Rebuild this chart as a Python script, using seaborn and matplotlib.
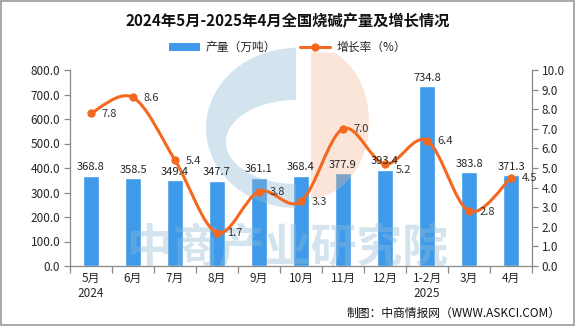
import numpy as np
import pandas as pd
import matplotlib
matplotlib.use("Agg")
import matplotlib.pyplot as plt
import seaborn as sns
from matplotlib.path import Path
from matplotlib.patches import PathPatch, Patch, Polygon
from matplotlib.lines import Line2D

categories = ["5月\n2024", "6月", "7月", "8月", "9月", "10月", "11月", "12月", "1-2月\n2025", "3月", "4月"]
production = [368.8, 358.5, 349.4, 347.7, 361.1, 368.4, 377.9, 393.4, 734.8, 383.8, 371.3]
growth = [7.8, 8.6, 5.4, 1.7, 3.8, 3.3, 7.0, 5.2, 6.4, 2.8, 4.5]

sns.set_theme(style="white")
plt.rcParams['font.family'] = ['Noto Sans CJK SC', 'DejaVu Sans']

BAR = "#3f9bea"
LINE = "#f5681f"
W, H = 575, 326

fig = plt.figure(figsize=(W / 100, H / 100), dpi=100)
ax = fig.add_axes([70/W, 1-266/H, (532-70)/W, (266-70)/H])
ax2 = ax.twinx()
ax.set_facecolor('none')
ax2.set_facecolor('none')

df = pd.DataFrame({"cat": categories, "prod": production, "growth": growth})
sns.barplot(data=df, x="cat", y="prod", color=BAR, width=0.38, ax=ax, saturation=1, zorder=2)

ax.set_ylim(0, 800)
ax.set_yticks(np.arange(0, 801, 100))
ax.set_yticklabels([f"{v:.1f}" for v in np.arange(0, 801, 100)])
ax2.set_ylim(0, 10)
ax2.set_yticks(np.arange(0, 11, 1))
ax2.set_yticklabels([f"{v:.1f}" for v in np.arange(0, 11, 1)])
ax.set_xlim(-0.5, len(categories) - 0.5)
ax.set_xlabel("")
ax.set_ylabel("")

for a in (ax, ax2):
    for s in a.spines.values():
        s.set_visible(False)
ax.spines['left'].set_visible(True)
ax.spines['bottom'].set_visible(True)
ax2.spines['right'].set_visible(True)
for s in (ax.spines['left'], ax.spines['bottom'], ax2.spines['right']):
    s.set_color("#888888")
    s.set_linewidth(0.9)

ax.tick_params(axis='y', length=4, width=0.9, color="#888888", labelsize=8.5, pad=3, left=True)
ax2.tick_params(axis='y', length=4, width=0.9, color="#888888", labelsize=8.5, pad=3, right=True)
ax.tick_params(axis='x', length=0, labelsize=8.5, pad=4)
ax.set_xticks(np.arange(-0.5, len(categories), 1), minor=True)
ax.tick_params(axis='x', which='minor', length=5, width=0.9, color="#888888", bottom=True)
ax.grid(False)
ax2.grid(False)

# background logo (decorative, semi-transparent, over the bars)
def fig_pts(px):
    px = np.asarray(px, dtype=float)
    return np.column_stack([px[:, 0] / W, 1 - px[:, 1] / H])

th = np.linspace(np.pi / 2, 3 * np.pi / 2, 60)
cx, cy = 296, 128
outer = np.column_stack([cx + 90 * np.cos(th), cy - 80 * np.sin(th)])
inner = np.column_stack([cx + 70 * np.cos(th[::-1]), 142 - 42 * np.sin(th[::-1])])
c_shape = np.vstack([outer, inner])
ax2.add_patch(Polygon(fig_pts(c_shape), closed=True, transform=fig.transFigure, facecolor="#8eb9d4",
                      edgecolor='none', alpha=0.38, zorder=1, clip_on=False))
th2 = np.linspace(-np.pi / 2, np.pi / 2, 60)
peach = np.column_stack([311 + 58 * np.cos(th2), 122 - 76 * np.sin(th2)])
peach = peach[peach[:, 1] >= 52]
peach = np.vstack([[311, 52], peach])
ax2.add_patch(Polygon(fig_pts(peach), closed=True, transform=fig.transFigure, facecolor="#f5b18e",
                      edgecolor='none', alpha=0.34, zorder=1, clip_on=False))
ax2.text(0.5, 1 - 249 / H, "中商产业研究院", transform=fig.transFigure, ha='center', va='center',
         fontsize=33, color="#8eb9d4", alpha=0.38, fontweight='bold', zorder=1.5, clip_on=False)

# bar labels
for i, v in enumerate(production):
    ax2.text(i, v + 14, f"{v:.1f}", transform=ax.transData, ha='center', va='bottom',
             fontsize=8, color="#222222", zorder=6)

# smooth line via Catmull-Rom -> Bezier in data coords
x = np.arange(len(growth), dtype=float)
y = np.array(growth, dtype=float)
verts = [(x[0], y[0])]
codes = [Path.MOVETO]
t = 0.5
for i in range(len(x) - 1):
    p0 = (x[i-1], y[i-1]) if i > 0 else (x[i], y[i])
    p1 = (x[i], y[i]); p2 = (x[i+1], y[i+1])
    p3 = (x[i+2], y[i+2]) if i + 2 < len(x) else (x[i+1], y[i+1])
    c1 = (p1[0] + (p2[0]-p0[0]) * t / 3, p1[1] + (p2[1]-p0[1]) * t / 3)
    c2 = (p2[0] - (p3[0]-p1[0]) * t / 3, p2[1] - (p3[1]-p1[1]) * t / 3)
    verts += [c1, c2, p2]
    codes += [Path.CURVE4] * 3
ax2.add_patch(PathPatch(Path(verts, codes), facecolor='none', edgecolor=LINE, lw=2.2, zorder=3))
ax2.plot(x, y, linestyle='none', marker='o', markersize=5, color=LINE, zorder=4)
for i, v in enumerate(growth):
    dy = -4 if i == 7 else -0.5
    ax2.annotate(f"{v:.1f}", xy=(i, v), xytext=(7.5, dy), textcoords='offset points',
                 ha='left', va='center', fontsize=8, color="#333333", zorder=6)

# title
fig.text(0.5, 0.935, "2024年5月-2025年4月全国烧碱产量及增长情况", ha='center', va='center',
         fontsize=11, fontweight='bold', color="#111111")

# legend
handles = [Patch(facecolor=BAR, edgecolor='none'),
           Line2D([0], [0], color=LINE, lw=2.2, marker='o', markersize=5)]
fig.legend(handles, ["产量（万吨）", "增长率（%）"], loc='center', bbox_to_anchor=(0.5, 0.855),
           ncol=2, frameon=False, fontsize=8.5, handlelength=2.6, handleheight=0.7,
           columnspacing=2.0, handletextpad=0.5)

# footer
fig.text(0.975, 0.04, "制图：中商情报网（WWW.ASKCI.COM）", ha='right', va='center', fontsize=8.5, color="#111111")

# border
fig.patches.append(matplotlib.patches.Rectangle((0.001, 0.002), 0.997, 0.995, transform=fig.transFigure,
                                                 fill=False, edgecolor="#999999", lw=1.2))

fig.savefig("out.png", dpi=100)
